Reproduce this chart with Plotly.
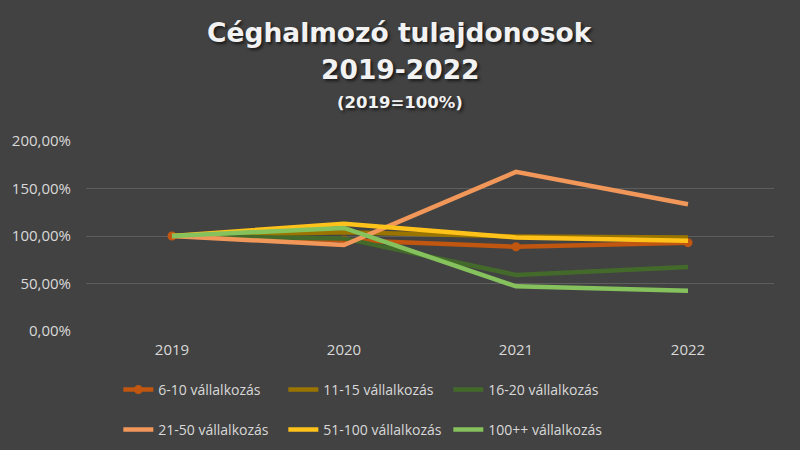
import plotly.graph_objects as go

years = ["2019", "2020", "2021", "2022"]
s_6_10 = [100.0, 95.8, 88.7, 93.0]
s_11_15 = [100.0, 104.0, 99.5, 98.5]
s_16_20 = [100.0, 97.5, 59.0, 67.5]
s_21_50 = [100.0, 90.5, 167.5, 133.5]
s_51_100 = [100.0, 113.0, 98.5, 95.0]
s_100pp = [100.0, 108.5, 47.0, 42.5]

names = ["6-10 vállalkozás", "11-15 vállalkozás", "16-20 vállalkozás",
         "21-50 vállalkozás", "51-100 vállalkozás", "100++ vállalkozás"]
series = [s_6_10, s_11_15, s_16_20, s_21_50, s_51_100, s_100pp]
colors = ["#C0560F", "#9A7400", "#436A2A", "#F2975A", "#FFC21A", "#85C15C"]

y_tickvals = [0, 50, 100, 150, 200]
y_ticktext = ["0,00%", "50,00%", "100,00%", "150,00%", "200,00%"]

fig = go.Figure()
for i, (n, s, c) in enumerate(zip(names, series, colors)):
    fig.add_trace(go.Scatter(
        x=years, y=s, name=n,
        mode="lines+markers" if i == 0 else "lines",
        line=dict(color=c, width=4.5),
        marker=dict(size=9, color=c),
        legend="legend" if i < 3 else "legend2",
    ))

leg_common = dict(orientation="h", xanchor="left", yanchor="middle", x=0.047,
                  yref="paper", bgcolor="rgba(0,0,0,0)",
                  entrywidth=120, entrywidthmode="pixels",
                  font=dict(size=14, color="#D9D9D9", family="Open Sans"))

fig.update_layout(
    width=800, height=450,
    paper_bgcolor="#424242", plot_bgcolor="#424242",
    margin=dict(l=86, r=26, t=141, b=119, autoexpand=False),
    font=dict(family="Open Sans", color="#D9D9D9", size=15),
    xaxis=dict(type="category", range=[-0.5, 3.5], showgrid=False,
               zeroline=False, showline=False, ticks="", automargin=False,
               ticklabelstandoff=8,
               tickfont=dict(size=15, color="#D9D9D9")),
    yaxis=dict(range=[0, 200], tickvals=y_tickvals, ticktext=y_ticktext,
               showgrid=True, gridcolor="#5E5E5E", gridwidth=1, automargin=False,
               zeroline=False, showline=False, ticks="", ticklabelstandoff=14,
               tickfont=dict(size=15, color="#D9D9D9")),
    legend=dict(y=(331 - 390) / 190, **leg_common),
    legend2=dict(y=(331 - 430) / 190, **leg_common),
    showlegend=True,
)

title_lines = [("<b>Céghalmozó tulajdonosok</b>", 26.5, 32),
               ("<b>2019-2022</b>", 26.5, 70),
               ("<b>(2019=100%)</b>", 16.5, 102)]
for txt, sz, ypx in title_lines:
    fig.add_annotation(text=txt, xref="paper", yref="paper", x=(400 - 86) / 688,
                       y=(331 - ypx) / 190, xanchor="center", yanchor="middle",
                       showarrow=False,
                       font=dict(size=sz, color="#F2F2F2", family="DejaVu Sans",
                                 shadow="2px 2px 3px #1a1a1a"))

fig.write_html("out.html")
